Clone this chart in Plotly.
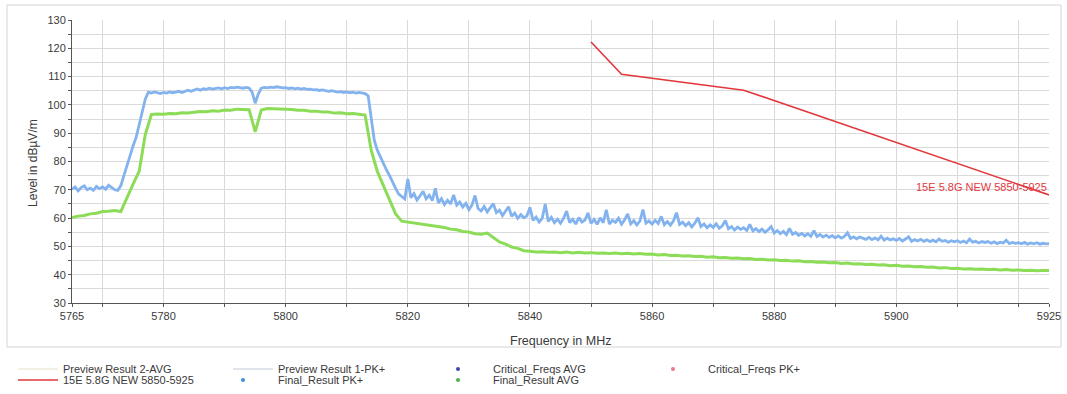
import numpy as np
import plotly.graph_objects as go

# Sweep grid (MHz)
FREQ_START = 5765
FREQ_STOP = 5925
PK_STEP = 0.5
AVG_STEP = 1.0

# Preview Result 1-PK+ (dBuV/m), one value every 0.5 MHz from 5765 MHz
preview_pk = [
    70.2, 71.0, 69.6, 70.8, 71.4, 70.0, 70.6, 69.8, 71.2, 70.4,
    71.0, 70.2, 71.6, 70.8, 70.0, 69.8, 71.5, 75.0, 79.0, 82.0,
    85.5, 88.5, 93.0, 97.5, 102.0, 104.5, 104.2, 104.6, 104.3, 104.0,
    104.4, 104.2, 104.6, 104.3, 104.5, 104.8, 104.4, 104.9, 105.2, 104.8,
    105.3, 105.6, 105.2, 105.7, 105.5, 105.9, 105.6, 105.8, 106.0, 105.7,
    106.1, 105.8, 106.2, 106.0, 106.3, 106.1, 105.9, 106.2, 106.0, 104.5,
    100.6, 103.8, 105.9, 106.2, 106.0, 106.3, 106.1, 106.4, 106.2, 106.0,
    106.1, 105.8, 106.0, 105.7, 105.9, 105.6, 105.8, 105.5, 105.6, 105.3,
    105.4, 105.1, 105.3, 105.0, 104.8, 105.0, 104.7, 104.5, 104.7, 104.4,
    104.6, 104.3, 104.5, 104.2, 104.4, 104.1, 104.0, 103.2, 95.0, 87.5,
    84.0, 81.5, 79.0, 77.0, 75.0, 72.5, 70.5, 68.5, 67.5, 66.8,
    73.8, 67.2, 68.6, 66.4, 67.9, 69.5, 66.8, 68.1, 66.2, 70.5,
    65.4, 66.9, 64.8, 66.3, 65.0, 68.2, 64.6, 65.7, 63.9, 65.2,
    63.0, 64.6, 68.0, 63.4, 62.5, 64.1, 62.2, 63.6, 65.1, 61.9,
    62.8, 60.9, 62.3, 64.0, 60.6, 61.8, 59.9, 61.2, 60.1, 60.8,
    63.8, 59.2, 60.4, 58.6, 59.9, 65.0, 58.8, 60.3, 58.4, 59.6,
    58.2, 59.9, 62.5, 58.4, 59.6, 57.9, 60.2, 58.6, 59.3, 61.8,
    58.1, 59.5, 57.8, 60.1, 58.4, 62.9, 57.9, 59.2, 58.5, 60.0,
    57.8, 59.4, 61.5, 58.0, 59.1, 57.6, 58.9, 63.0, 58.2, 59.0,
    57.9, 59.2, 58.1, 60.6, 57.7, 58.8, 57.5, 59.0, 61.9, 57.8,
    58.6, 57.3, 58.4, 56.9, 58.2, 60.1, 57.0, 57.9, 56.6, 57.6,
    56.7, 58.0, 56.4, 57.3, 59.2, 56.2, 57.0, 55.8, 56.8, 56.0,
    56.6, 55.6, 57.8, 55.5, 56.3, 55.2, 56.1, 55.0, 55.9, 57.0,
    54.7, 55.6, 54.5, 55.3, 54.2, 56.4, 54.3, 54.9, 53.9, 54.6,
    53.7, 54.5, 53.6, 55.6, 53.5, 54.2, 53.3, 54.0, 53.2, 53.8,
    53.0, 53.7, 52.9, 53.5, 54.8, 52.8, 53.4, 52.7, 53.3, 52.9,
    52.5, 53.2, 52.4, 53.0, 52.3, 53.6, 52.2, 52.9, 52.3, 52.7,
    52.1, 52.8, 51.9, 52.6, 53.4, 51.8, 52.4, 51.9, 52.5, 51.8,
    52.3, 51.7, 52.2, 51.6, 52.6, 51.8, 52.1, 51.5, 52.0, 51.6,
    52.0, 51.4, 51.9, 51.3, 52.6, 51.5, 51.8, 51.2, 51.7, 51.4,
    51.7, 51.1, 51.6, 51.0, 51.5, 51.2, 52.2, 51.0, 51.4, 51.1,
    51.3, 50.9, 51.4, 50.8, 51.2, 50.9, 51.3, 50.8, 51.1, 50.9,
    51.0,
]

# Preview Result 2-AVG (dBuV/m), one value every 1 MHz from 5765 MHz
preview_avg = [
    60.2, 60.7, 60.9, 61.5, 61.7, 62.3, 62.4, 62.7, 62.3, 67.5,
    72.0, 76.5, 89.5, 96.6, 96.8, 96.7, 97.0, 96.9, 97.2, 97.1,
    97.4, 97.7, 97.6, 97.9, 97.8, 98.2, 98.1, 98.5, 98.4, 98.3,
    90.5, 98.2, 98.7, 98.6, 98.7, 98.4, 98.4, 98.1, 98.1, 97.8,
    97.8, 97.5, 97.5, 97.1, 97.2, 96.9, 97.0, 96.7, 96.4, 84.0,
    76.5, 71.5, 66.5, 61.5, 58.9, 58.6, 58.1, 58.0, 57.5, 57.4,
    56.9, 56.7, 56.1, 55.9, 55.3, 55.1, 54.5, 54.3, 54.7, 53.2,
    51.6, 50.8, 49.8, 49.3, 48.5, 48.3, 48.0, 48.1, 47.9, 48.0,
    47.8, 48.0, 47.7, 47.9, 47.7, 47.8, 47.6, 47.7, 47.5, 47.7,
    47.4, 47.6, 47.3, 47.5, 47.2, 47.3, 47.0, 47.1, 46.8, 46.9,
    46.6, 46.7, 46.4, 46.5, 46.2, 46.3, 46.0, 46.1, 45.8, 45.9,
    45.6, 45.7, 45.4, 45.5, 45.2, 45.3, 45.0, 45.1, 44.8, 44.9,
    44.6, 44.7, 44.4, 44.5, 44.2, 44.3, 44.0, 44.1, 43.8, 43.9,
    43.6, 43.7, 43.4, 43.5, 43.2, 43.3, 43.0, 43.1, 42.8, 42.9,
    42.6, 42.7, 42.4, 42.5, 42.2, 42.3, 42.0, 42.1, 41.9, 42.0,
    41.8, 41.9, 41.7, 41.8, 41.6, 41.7, 41.5, 41.6, 41.4, 41.5,
    41.5,
]

# Limit line "15E 5.8G NEW 5850-5925"
limit_freq = [5850, 5855, 5875, 5925]
limit_level = [122.2, 110.8, 105.2, 68.2]

# Axis labels
x_label_vals = [5765, 5780, 5800, 5820, 5840, 5860, 5880, 5900, 5925]
x_grid_vals = [5765] + list(range(5770, 5921, 10)) + [5925]
y_label_vals = list(range(30, 131, 10))

freq_pk = FREQ_START + PK_STEP * np.arange(len(preview_pk))
freq_avg = FREQ_START + AVG_STEP * np.arange(len(preview_avg))

FONT = "Liberation Sans, Arial, sans-serif"
TEXT = "#3a3a3a"
GRID = "#dadada"
AXIS = "#555555"
RED = "#e2383d"
BLUE = "#82b3ef"
GREEN = "#8cdc58"

W, H = 1067, 394
L, R, T, B = 72, 18, 20, 91
PW, PH = W - L - R, H - T - B


def px_to_paper_x(px):
    return (px - L) / PW


def px_to_paper_y(py):
    return (H - B - py) / PH


fig = go.Figure()

fig.add_trace(go.Scatter(x=freq_pk, y=preview_pk, mode="lines",
                         line=dict(color=BLUE, width=2.8), showlegend=False,
                         hoverinfo="skip"))
fig.add_trace(go.Scatter(x=freq_avg, y=preview_avg, mode="lines",
                         line=dict(color=GREEN, width=3), showlegend=False,
                         hoverinfo="skip"))
fig.add_trace(go.Scatter(x=limit_freq, y=limit_level, mode="lines",
                         line=dict(color=RED, width=1.6),
                         name="15E 5.8G NEW 5850-5925", legend="legend2"))

# legend entries for the preview sweeps and (empty) result tables
fig.add_trace(go.Scatter(x=[None], y=[None], mode="lines",
                         line=dict(color="#ecebd8", width=1.5),
                         name="Preview Result 2-AVG", legend="legend"))
fig.add_trace(go.Scatter(x=[None], y=[None], mode="lines",
                         line=dict(color="#d6dde6", width=1.5),
                         name="Preview Result 1-PK+", legend="legend3"))
fig.add_trace(go.Scatter(x=[None], y=[None], mode="markers",
                         marker=dict(color="#3f8fe0", size=4),
                         name="Final_Result PK+", legend="legend4"))
fig.add_trace(go.Scatter(x=[None], y=[None], mode="markers",
                         marker=dict(color="#3c48b0", size=4),
                         name="Critical_Freqs AVG", legend="legend5"))
fig.add_trace(go.Scatter(x=[None], y=[None], mode="markers",
                         marker=dict(color="#4cb050", size=4),
                         name="Final_Result AVG", legend="legend6"))
fig.add_trace(go.Scatter(x=[None], y=[None], mode="markers",
                         marker=dict(color="#e8788c", size=4),
                         name="Critical_Freqs PK+", legend="legend7"))


def legend_box(text_px, py, item_w):
    # text of a plotly legend item starts itemwidth + 10 px from the box edge
    px = text_px - (item_w + 10)
    return dict(x=px / W, y=1 - py / H, xref="container", yref="container",
                xanchor="left", yanchor="middle", bgcolor="rgba(0,0,0,0)",
                borderwidth=0, font=dict(family=FONT, size=11, color=TEXT),
                itemwidth=item_w, tracegroupgap=0)


row1, row2 = 369, 380
fig.update_layout(
    legend=legend_box(63, row1, 40),
    legend2=legend_box(63, row2, 40),
    legend3=legend_box(278, row1, 40),
    legend4=legend_box(278, row2, 60),
    legend5=legend_box(493, row1, 60),
    legend6=legend_box(493, row2, 60),
    legend7=legend_box(708, row1, 60),
)

fig.add_annotation(x=5925, y=71, xref="x", yref="y", xanchor="right",
                   yanchor="middle", showarrow=False,
                   text="15E 5.8G NEW 5850-5925",
                   font=dict(family=FONT, size=11, color=RED))

# axis titles
fig.add_annotation(x=0.5, y=px_to_paper_y(341), xref="paper", yref="paper",
                   xanchor="center", yanchor="middle", showarrow=False,
                   text="Frequency in MHz",
                   font=dict(family=FONT, size=12.5, color=TEXT))
fig.add_annotation(x=px_to_paper_x(33), y=0.495, xref="paper", yref="paper",
                   xanchor="center", yanchor="middle", showarrow=False,
                   textangle=-90, text="Level in dBµV/m",
                   font=dict(family=FONT, size=12, color=TEXT))

# outer frame around the diagram
fig.add_shape(type="rect", xref="paper", yref="paper",
              x0=px_to_paper_x(7), x1=px_to_paper_x(1061),
              y0=px_to_paper_y(347), y1=px_to_paper_y(5),
              line=dict(color="#d4d4d4", width=1), layer="below")

fig.update_xaxes(
    range=[FREQ_START, FREQ_STOP],
    tickmode="array", tickvals=x_grid_vals,
    ticktext=[str(v) if v in x_label_vals else "" for v in x_grid_vals],
    ticks="outside", ticklen=3, tickcolor=AXIS,
    showgrid=True, gridcolor=GRID, gridwidth=1,
    showline=True, linecolor=AXIS, linewidth=1, zeroline=False,
    tickfont=dict(family=FONT, size=11, color=TEXT),
)
fig.update_yaxes(
    range=[30, 130], tickmode="array", tickvals=y_label_vals,
    ticks="outside", ticklen=3, tickcolor=AXIS,
    showgrid=True, gridcolor=GRID, gridwidth=1,
    minor=dict(dtick=5, showgrid=True, gridcolor=GRID, ticks="outside",
               ticklen=3, tickcolor=AXIS),
    showline=True, linecolor=AXIS, linewidth=1, zeroline=False,
    tickfont=dict(family=FONT, size=11, color=TEXT),
)

fig.update_layout(
    width=W, height=H,
    margin=dict(l=L, r=R, t=T, b=B, autoexpand=False),
    paper_bgcolor="white", plot_bgcolor="white",
    font=dict(family=FONT, color=TEXT),
)

fig.write_html("out.html")
